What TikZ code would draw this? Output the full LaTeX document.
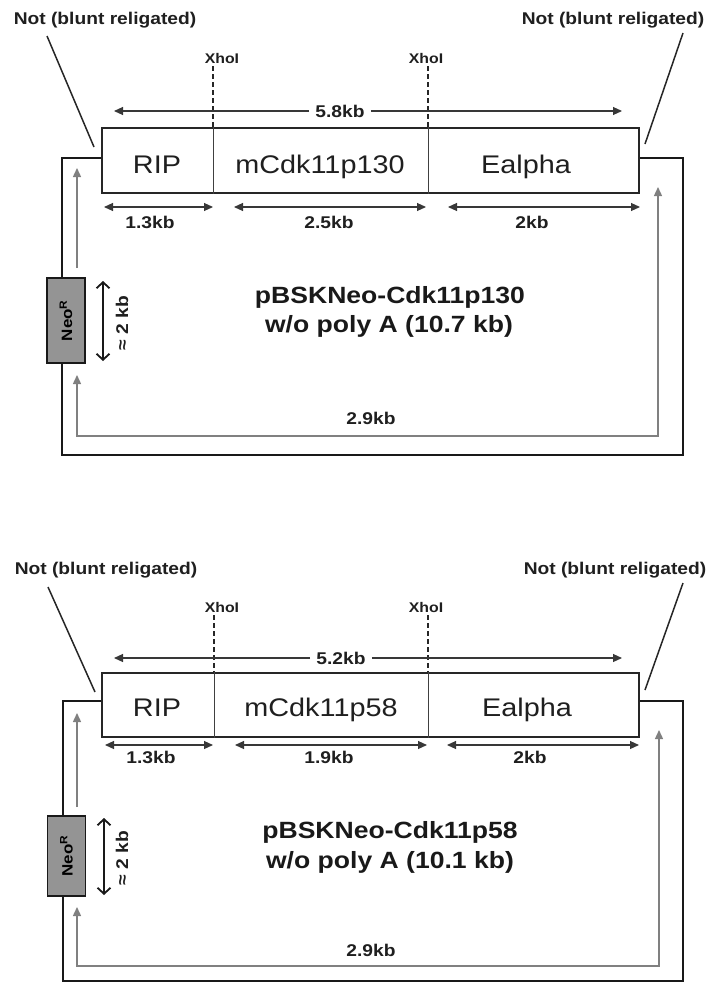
\documentclass[tikz,border=0pt]{standalone}
\usepackage{fontspec}
\setmainfont[FakeStretch=1.13]{Liberation Sans}
\usetikzlibrary{arrows.meta}
\tikzset{
  tip/.tip={Triangle[length=9pt,width=8pt]},
  lbl/.style={font=\fontsize{17}{20}\selectfont\bfseries, inner sep=0pt, text=black!88},
  xho/.style={font=\fontsize{14}{16}\selectfont\bfseries, inner sep=0pt, text=black!88},
  segtxt/.style={font=\fontsize{25.5}{30}\selectfont, inner sep=0pt, text=black!88},
  ttl/.style={font=\fontsize{23.5}{28}\selectfont\bfseries, inner sep=0pt, text=black!90},
  lead/.style={line width=1.5pt, draw=black!85},
  cut/.style={line width=1.5pt, draw=black!85, dash pattern=on 5pt off 3pt},
  dimarr/.style={line width=1.1pt, draw=black!78, {tip}-{tip}},
  onearr/.style={line width=1.1pt, draw=black!78, -{tip}},
  bigloop/.style={line width=2.8pt, draw=black!90, line join=miter},
  gloop/.style={line width=1.4pt, draw=black!50, -{tip}},
  gloop2/.style={line width=1.4pt, draw=black!50, {tip}-{tip}},
  cbox/.style={draw=black!85, line width=1.6pt, minimum width=537pt, inner sep=0pt},
  divline/.style={line width=0.9pt, draw=black!75},
  neobox/.style={draw=black!90, line width=1.8pt, fill=black!42, rotate=90, minimum height=38pt, inner sep=0pt,
    font=\fontsize{15}{17}\selectfont\bfseries},
  barb/.style={line width=1.8pt, draw=black!90, {Straight Barb[length=6pt,width=13pt]}-{Straight Barb[length=6pt,width=13pt]}},
}
\begin{document}
\begin{tikzpicture}[x=1pt, y=-1pt]
\useasboundingbox (0,0) rectangle (709,983);

% ================= TOP PANEL =================
\node[lbl, anchor=base] (nl1) at (105,24) {Not (blunt religated)};
\node[lbl, anchor=base] (nr1) at (613,24) {Not (blunt religated)};
\coordinate (la1) at (47,36); \coordinate (lb1) at (94,147);
\coordinate (ra1) at (683,33); \coordinate (rb1) at (645,144);
\draw[lead] (la1) -- (lb1);
\draw[lead] (ra1) -- (rb1);

\node[xho, anchor=base] (x1a) at (222,63) {XhoI};
\node[xho, anchor=base] (x1b) at (426,63) {XhoI};
\coordinate (d1a) at (213,66); \coordinate (d1b) at (428,66);

\node[cbox, minimum height=65pt] (b1) at (370.5,160.5) {};
\draw[cut] (d1a) -- (d1a |- b1.north);
\draw[cut] (d1b) -- (d1b |- b1.north);
\draw[divline] (213,0 |- b1.north) -- (213,0 |- b1.south);
\draw[divline] (428,0 |- b1.north) -- (428,0 |- b1.south);
\node[segtxt, anchor=base] (rip1) at (157,173) {RIP};
\node[segtxt, anchor=base] (cdk1) at (320,173) {mCdk11p130};
\node[segtxt, anchor=base] (ea1) at (526,173) {Ealpha};

% total length
\node[lbl, anchor=base] (t1) at (340,117) {5.8kb};
\coordinate (tl1) at (114,111); \coordinate (tr1) at (622,111);
\draw[onearr] (t1.west |- tl1) ++(-6pt,0) -- (tl1);
\draw[onearr] (t1.east |- tr1) ++(6pt,0) -- (tr1);

% segment lengths
\coordinate (s1a) at (104,207); \coordinate (s1b) at (213,207);
\coordinate (s1c) at (234,207); \coordinate (s1d) at (426,207);
\coordinate (s1e) at (448,207); \coordinate (s1f) at (640,207);
\draw[dimarr] (s1a) -- (s1b);
\draw[dimarr] (s1c) -- (s1d);
\draw[dimarr] (s1e) -- (s1f);
\node[lbl, anchor=base] (l1a) at (150,228) {1.3kb};
\node[lbl, anchor=base] (l1b) at (329,228) {2.5kb};
\node[lbl, anchor=base] (l1c) at (532,228) {2kb};

% Neo box and outer loop
\node[neobox, minimum width=85pt] (neo1) at (66,320.5) {Neo\textsuperscript{R}};
\coordinate (o1a) at (62,158); \coordinate (o1b) at (62,455);
\coordinate (o1c) at (683,455); \coordinate (o1d) at (683,158);
\draw[bigloop] (b1.west |- o1a) -- (o1a) -- (o1a |- neo1.east);
\draw[bigloop] (o1a |- neo1.west) -- (o1b) -- (o1c) -- (o1d) -- (b1.east |- o1d);

% inner grey loop
\coordinate (g1a) at (77,268); \coordinate (g1b) at (77,168);
\coordinate (g1c) at (77,375); \coordinate (g1d) at (77,436);
\coordinate (g1e) at (658,436); \coordinate (g1f) at (658,187);
\draw[gloop] (g1a) -- (g1b);
\draw[gloop2] (g1c) -- (g1d) -- (g1e) -- (g1f);

% approx 2 kb
\coordinate (a1a) at (103,281); \coordinate (a1b) at (103,361);
\draw[barb] (a1a) -- (a1b);
\node[lbl, rotate=90] (ap1) at (122,323) {≈ 2 kb};

% title
\node[ttl, anchor=base] (ti1a) at (390,303) {pBSKNeo-Cdk11p130};
\node[ttl, anchor=base] (ti1b) at (389,332) {w/o poly A (10.7 kb)};
\node[lbl, anchor=base] (bb1) at (371,424) {2.9kb};

% ================= BOTTOM PANEL =================
\node[lbl, anchor=base] (nl2) at (106,574) {Not (blunt religated)};
\node[lbl, anchor=base] (nr2) at (615,574) {Not (blunt religated)};
\coordinate (la2) at (48,587); \coordinate (lb2) at (95,692);
\coordinate (ra2) at (683,583); \coordinate (rb2) at (645,690);
\draw[lead] (la2) -- (lb2);
\draw[lead] (ra2) -- (rb2);

\node[xho, anchor=base] (x2a) at (222,612) {XhoI};
\node[xho, anchor=base] (x2b) at (426,612) {XhoI};
\coordinate (d2a) at (214,615); \coordinate (d2b) at (428,615);

\node[cbox, minimum height=64pt] (b2) at (370.5,705) {};
\draw[cut] (d2a) -- (d2a |- b2.north);
\draw[cut] (d2b) -- (d2b |- b2.north);
\draw[divline] (214,0 |- b2.north) -- (214,0 |- b2.south);
\draw[divline] (428,0 |- b2.north) -- (428,0 |- b2.south);
\node[segtxt, anchor=base] (rip2) at (157,716) {RIP};
\node[segtxt, anchor=base] (cdk2) at (321,716) {mCdk11p58};
\node[segtxt, anchor=base] (ea2) at (527,716) {Ealpha};

\node[lbl, anchor=base] (t2) at (341,664) {5.2kb};
\coordinate (tl2) at (114,658); \coordinate (tr2) at (622,658);
\draw[onearr] (t2.west |- tl2) ++(-6pt,0) -- (tl2);
\draw[onearr] (t2.east |- tr2) ++(6pt,0) -- (tr2);

\coordinate (s2a) at (105,745); \coordinate (s2b) at (213,745);
\coordinate (s2c) at (235,745); \coordinate (s2d) at (427,745);
\coordinate (s2e) at (447,745); \coordinate (s2f) at (639,745);
\draw[dimarr] (s2a) -- (s2b);
\draw[dimarr] (s2c) -- (s2d);
\draw[dimarr] (s2e) -- (s2f);
\node[lbl, anchor=base] (l2a) at (151,763) {1.3kb};
\node[lbl, anchor=base] (l2b) at (329,763) {1.9kb};
\node[lbl, anchor=base] (l2c) at (530,763) {2kb};

\node[neobox, minimum width=80pt] (neo2) at (66.5,856) {Neo\textsuperscript{R}};
\coordinate (o2a) at (63,701); \coordinate (o2b) at (63,981);
\coordinate (o2c) at (683,981); \coordinate (o2d) at (683,701);
\draw[bigloop] (b2.west |- o2a) -- (o2a) -- (o2a |- neo2.east);
\draw[bigloop] (o2a |- neo2.west) -- (o2b) -- (o2c) -- (o2d) -- (b2.east |- o2d);

\coordinate (g2a) at (77,807); \coordinate (g2b) at (77,713);
\coordinate (g2c) at (77,907); \coordinate (g2d) at (77,966);
\coordinate (g2e) at (659,966); \coordinate (g2f) at (659,730);
\draw[gloop] (g2a) -- (g2b);
\draw[gloop2] (g2c) -- (g2d) -- (g2e) -- (g2f);

\coordinate (a2a) at (104,818); \coordinate (a2b) at (104,895);
\draw[barb] (a2a) -- (a2b);
\node[lbl, rotate=90] (ap2) at (122,858) {≈ 2 kb};

\node[ttl, anchor=base] (ti2a) at (390,838) {pBSKNeo-Cdk11p58};
\node[ttl, anchor=base] (ti2b) at (390,868) {w/o poly A (10.1 kb)};
\node[lbl, anchor=base] (bb2) at (371,956) {2.9kb};
\end{tikzpicture}
\end{document}
